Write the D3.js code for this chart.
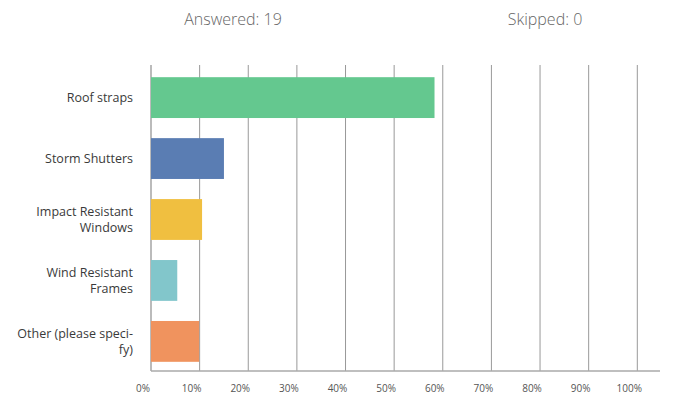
<!DOCTYPE html>
<html>
<head>
<meta charset="utf-8">
<script src="https://cdn.jsdelivr.net/npm/d3@7"></script>
<style>
  html, body { margin: 0; padding: 0; background: #fff; }
  svg { display: block; }
</style>
</head>
<body>
<svg id="chart" width="675" height="396"></svg>
<script>
const categories = [
  ["Roof straps"],
  ["Storm Shutters"],
  ["Impact Resistant", "Windows"],
  ["Wind Resistant", "Frames"],
  ["Other (please speci-", "fy)"]
];
const values = [58.3, 15.0, 10.5, 5.4, 9.9];
const barColors = ["#64c88f", "#5a7db3", "#f0bf40", "#82c6cb", "#f0935e"];
const tickValues = [0, 10, 20, 30, 40, 50, 60, 70, 80, 90, 100];
const summary = ["Answered: 19", "Skipped: 0"];

const FONT = "'Open Sans', 'Noto Sans', sans-serif";
const svg = d3.select("#chart");

const x = d3.scaleLinear().domain([0, 100]).range([151, 637.3]);
const keys = categories.map(c => c.join(" "));
const y = d3.scaleBand().domain(keys).range([65, 374]).paddingInner(0.33).paddingOuter(0.2);

// header
const hx = d3.scalePoint().domain(summary).range([233, 545]);
svg.selectAll("text.summary").data(summary).enter().append("text")
  .attr("class", "summary")
  .attr("x", d => hx(d)).attr("y", 25)
  .attr("text-anchor", "middle")
  .attr("font-family", FONT).attr("font-weight", 300)
  .attr("font-size", 16).attr("fill", "#666")
  .text(d => d);

// gridlines
svg.selectAll("line.grid").data(tickValues).enter().append("line")
  .attr("class", "grid")
  .attr("x1", d => x(d)).attr("x2", d => x(d))
  .attr("y1", 65).attr("y2", 371)
  .attr("stroke", d => d === 0 ? "#bbb" : "#999")
  .attr("stroke-width", d => d === 0 ? 2 : 1);

// bottom baseline
svg.append("line")
  .attr("x1", x(0)).attr("x2", 660)
  .attr("y1", 371).attr("y2", 371)
  .attr("stroke", "#aaa").attr("stroke-width", 1.5);

// bars
svg.selectAll("rect.bar").data(values).enter().append("rect")
  .attr("class", "bar")
  .attr("x", x(0))
  .attr("y", (d, i) => y(keys[i]))
  .attr("width", d => x(d) - x(0))
  .attr("height", y.bandwidth())
  .attr("fill", (d, i) => barColors[i]);

// category labels
const lineH = 16;
categories.forEach((lines, i) => {
  const cy = y(keys[i]) + y.bandwidth() / 2;
  const t = svg.append("text")
    .attr("text-anchor", "end")
    .attr("font-family", FONT).attr("font-size", 12.5)
    .attr("fill", "#3a3a3a");
  lines.forEach((ln, j) => {
    t.append("tspan")
      .attr("x", 133)
      .attr("y", cy + (j - (lines.length - 1) / 2) * lineH)
      .attr("dy", "0.35em")
      .text(ln);
  });
});

// tick labels
svg.selectAll("text.tick").data(tickValues).enter().append("text")
  .attr("class", "tick")
  .attr("x", d => x(d) - 8).attr("y", 392)
  .attr("text-anchor", "middle")
  .attr("font-family", FONT)
  .attr("font-size", 10).attr("fill", "#555")
  .text(d => d + "%");
</script>
</body>
</html>
